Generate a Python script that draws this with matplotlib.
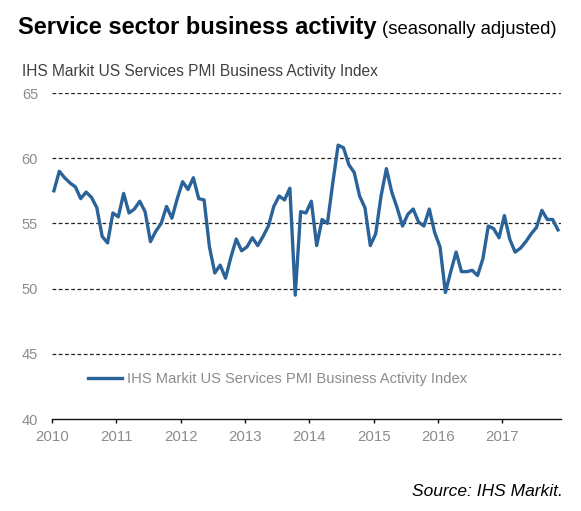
import matplotlib
matplotlib.use('Agg')
import matplotlib.pyplot as plt
import numpy as np

plt.rcParams['font.family'] = ['Liberation Sans', 'DejaVu Sans']

# monthly index, Jan 2010 .. Nov 2017
years = [2010, 2011, 2012, 2013, 2014, 2015, 2016, 2017]
pmi = {
    2010: [57.5, 59.0, 58.5, 58.1, 57.8, 56.9, 57.4, 57.0, 56.2, 54.0, 53.5, 55.8],
    2011: [55.5, 57.3, 55.8, 56.1, 56.7, 55.9, 53.6, 54.4, 55.0, 56.3, 55.4, 56.9],
    2012: [58.2, 57.6, 58.5, 56.9, 56.8, 53.2, 51.2, 51.8, 50.8, 52.4, 53.8, 52.9],
    2013: [53.2, 53.9, 53.3, 54.0, 54.8, 56.3, 57.1, 56.8, 57.7, 49.5, 55.9, 55.8],
    2014: [56.7, 53.3, 55.3, 55.0, 58.1, 61.0, 60.8, 59.5, 58.9, 57.1, 56.2, 53.3],
    2015: [54.2, 57.1, 59.2, 57.4, 56.2, 54.8, 55.7, 56.1, 55.1, 54.8, 56.1, 54.3],
    2016: [53.2, 49.7, 51.3, 52.8, 51.3, 51.3, 51.4, 51.0, 52.3, 54.8, 54.6, 53.9],
    2017: [55.6, 53.8, 52.8, 53.1, 53.6, 54.2, 54.7, 56.0, 55.3, 55.3, 54.5],
}
yticks = [40, 45, 50, 55, 60, 65]
series_name = 'IHS Markit US Services PMI Business Activity Index'

xs = []
vals = []
for y in years:
    for m, v in enumerate(pmi[y]):
        xs.append(y + m / 12 + 0.03)
        vals.append(v)

W, H = 581, 511
fig = plt.figure(figsize=(W / 100, H / 100), dpi=100)
ax = fig.add_axes([52 / W, 1 - 419 / H, (561 - 52) / W, (419 - 93) / H])

ax.set_xlim(2010, 2017.91)
ax.set_ylim(40, 65)

for g in yticks[1:]:
    ax.axhline(g, color='#222222', lw=0.9, ls=(0, (3, 2)), zorder=1)

line, = ax.plot(xs, vals, color='#2a6399', lw=2.4, zorder=3, label=series_name)

for s in ['top', 'right', 'left']:
    ax.spines[s].set_visible(False)
ax.spines['bottom'].set_color('#111111')
ax.spines['bottom'].set_linewidth(1.0)

ax.set_yticks(yticks)
ax.set_xticks(years)
ax.set_xticklabels([str(y) for y in years])
ax.tick_params(axis='y', length=0, pad=10, labelsize=10.5, labelcolor='#8c8c8c')
ax.tick_params(axis='x', length=3, width=1, color='#111111', pad=5,
               labelsize=10.8, labelcolor='#8c8c8c')

leg = ax.legend(loc='lower left', bbox_to_anchor=(0.045, 0.06), frameon=False,
                fontsize=10.6, handlelength=2.3, handletextpad=0.35)
for t in leg.get_texts():
    t.set_color('#8c8c8c')

# titles
t1 = fig.text(18 / W, 1 - 34 / H, 'Service sector business activity',
              fontsize=17.0, fontweight='bold', color='black', va='baseline')
fig.canvas.draw()
bb = t1.get_window_extent()
fig.text(bb.x1 / W + 6 / W, 1 - 34 / H, '(seasonally adjusted)',
         fontsize=13.3, color='black', va='baseline')
fig.text(22 / W, 1 - 71 / H, 'IHS Markit US Services PMI Business Activity Index',
         fontsize=11.2, color='#404040', va='center')
fig.text(563 / W, 1 - 496 / H, 'Source: IHS Markit.', fontsize=12.5,
         style='italic', ha='right', va='baseline', color='black')

fig.savefig('out.png', dpi=100)
